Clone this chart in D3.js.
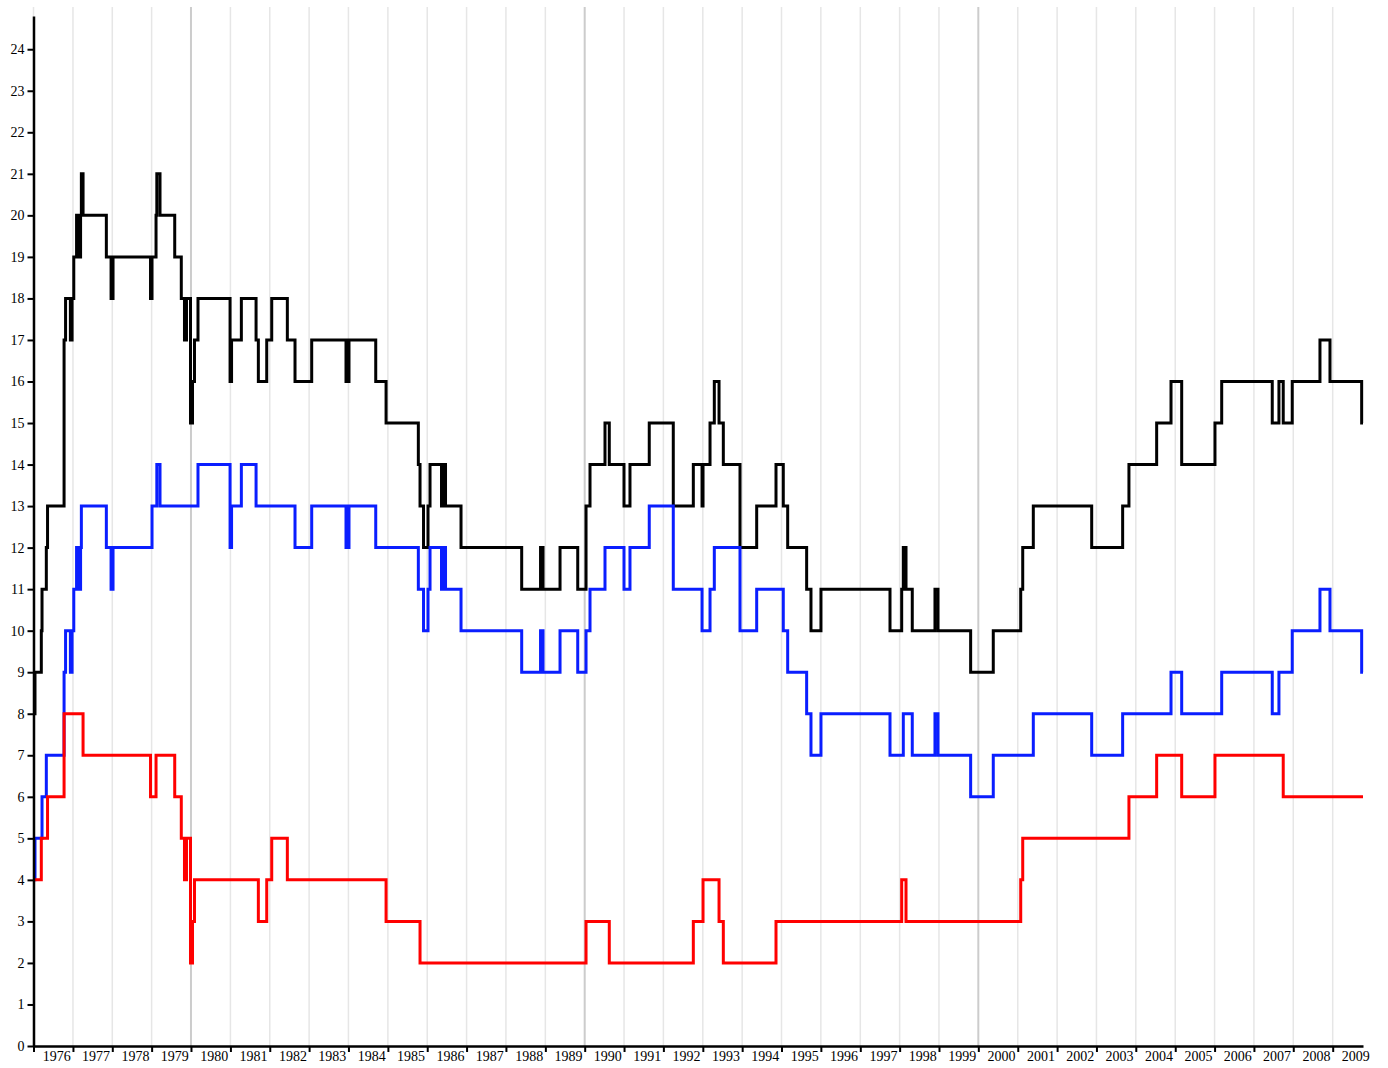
<!DOCTYPE html>
<html>
<head>
<meta charset="utf-8">
<script src="https://cdn.jsdelivr.net/npm/d3@7"></script>
<style>
  body { margin: 0; background: #fff; }
  svg { display: block; }
  text { font-family: "Liberation Serif", "Times New Roman", serif; }
</style>
</head>
<body>
<svg id="chart"></svg>
<script>
// change points, as decimal years; each series holds its value from that point on
var changeYears = [
  1976.000, 1976.038, 1976.198, 1976.216, 1976.325, 1976.356, 1976.775, 1976.813,
  1976.935, 1976.978, 1977.021, 1977.092, 1977.118, 1977.143, 1977.168, 1977.194,
  1977.214, 1977.257, 1977.849, 1977.969, 1978.019, 1978.972, 1979.010, 1979.112,
  1979.132, 1979.213, 1979.587, 1979.754, 1979.835, 1979.886, 1979.988, 1980.039,
  1980.089, 1980.178, 1980.991, 1981.029, 1981.278, 1981.652, 1981.710, 1981.923,
  1982.050, 1982.447, 1982.642, 1983.066, 1983.938, 1984.014, 1984.692, 1984.954,
  1985.774, 1985.817, 1985.906, 1986.020, 1986.071, 1986.363, 1986.401, 1986.465,
  1986.859, 1988.400, 1988.878, 1988.941, 1989.373, 1989.823, 1990.034, 1990.135,
  1990.516, 1990.625, 1990.999, 1991.151, 1991.641, 1992.251, 1992.759, 1992.980,
  1993.005, 1993.183, 1993.292, 1993.412, 1993.521, 1993.945, 1994.369, 1994.860,
  1995.045, 1995.157, 1995.639, 1995.749, 1996.003, 1997.755, 1998.052, 1998.093,
  1998.162, 1998.321, 1998.898, 1998.975, 1999.805, 2000.379, 2001.075, 2001.126,
  2001.395, 2002.879, 2003.666, 2003.826, 2004.529, 2004.893, 2005.164, 2006.010,
  2006.181, 2007.466, 2007.636, 2007.745, 2007.974, 2008.677, 2008.931, 2009.736,
  2009.770
];

var totalSeats = [
   8,  9, 10, 11, 12, 13, 17, 18, 17, 18, 19, 20, 19, 20, 19, 20,
  21, 20, 19, 18, 19, 18, 19, 20, 21, 20, 19, 18, 17, 18, 15, 16,
  17, 18, 16, 17, 18, 17, 16, 17, 18, 17, 16, 17, 16, 17, 16, 15,
  14, 13, 12, 13, 14, 13, 14, 13, 12, 11, 12, 11, 12, 11, 13, 14,
  15, 14, 13, 14, 15, 13, 14, 13, 14, 15, 16, 15, 14, 12, 13, 14,
  13, 12, 11, 10, 11, 10, 11, 12, 11, 10, 11, 10,  9, 10, 11, 12,
  13, 12, 13, 14, 15, 16, 14, 15, 16, 15, 16, 15, 16, 17, 16, 15,
  15
];

var blueSeats = [
   4,  5,  5,  6,  7,  7,  9, 10,  9, 10, 11, 12, 11, 12, 11, 12,
  13, 13, 12, 11, 12, 12, 13, 13, 14, 13, 13, 13, 13, 13, 13, 13,
  13, 14, 12, 13, 14, 13, 13, 13, 13, 13, 12, 13, 12, 13, 12, 12,
  11, 11, 10, 11, 12, 11, 12, 11, 10,  9, 10,  9, 10,  9, 10, 11,
  12, 12, 11, 12, 13, 11, 11, 10, 10, 11, 12, 12, 12, 10, 11, 11,
  10,  9,  8,  7,  8,  7,  7,  8,  8,  7,  8,  7,  6,  7,  7,  7,
   8,  7,  8,  8,  8,  9,  8,  8,  9,  8,  9,  9, 10, 11, 10,  9,
   9
];

var redSeats = [
   4,  4,  5,  5,  5,  6,  8,  8,  8,  8,  8,  8,  8,  8,  8,  8,
   8,  7,  7,  7,  7,  6,  6,  7,  7,  7,  6,  5,  4,  5,  2,  3,
   4,  4,  4,  4,  4,  4,  3,  4,  5,  4,  4,  4,  4,  4,  4,  3,
   3,  2,  2,  2,  2,  2,  2,  2,  2,  2,  2,  2,  2,  2,  3,  3,
   3,  2,  2,  2,  2,  2,  3,  3,  4,  4,  4,  3,  2,  2,  2,  3,
   3,  3,  3,  3,  3,  3,  4,  4,  3,  3,  3,  3,  3,  3,  4,  5,
   5,  5,  5,  6,  7,  7,  6,  7,  7,  7,  7,  6,  6,  6,  6,  6,
   6
];

var yTicks = [0, 1, 2, 3, 4, 5, 6, 7, 8, 9, 10, 11, 12, 13, 14, 15, 16, 17, 18, 19, 20, 21, 22, 23, 24];

var width = 1388, height = 1068;
var margin = { top: 16, right: 25, bottom: 22, left: 33.5 };

function yearToDate(y) {
  var yr = Math.floor(y);
  var start = new Date(yr, 0, 1), end = new Date(yr + 1, 0, 1);
  return new Date(+start + (y - yr) * (end - start));
}

var dates = changeYears.map(yearToDate);

var svg = d3.select('#chart').attr('width', width).attr('height', height);

var x = d3.scaleTime()
  .domain([dates[0], dates[dates.length - 1]])
  .range([margin.left, width - margin.right]);

var y = d3.scaleLinear()
  .domain([0, 24.8])
  .range([height - margin.bottom, margin.top]);

var yearStarts = d3.timeYear.range(dates[0], dates[dates.length - 1]);

// vertical year grid, decades a bit darker
svg.append('g')
  .selectAll('line')
  .data(yearStarts)
  .enter().append('line')
    .attr('x1', function (d) { return x(d) })
    .attr('x2', function (d) { return x(d) })
    .attr('y1', 7)
    .attr('y2', y(0))
    .attr('stroke', function (d) { return d.getFullYear() % 10 === 0 ? '#cccccc' : '#e6e6e6' })
    .attr('stroke-width', function (d) { return d.getFullYear() % 10 === 0 ? 2 : 1.5 })

var series = [
  { values: totalSeats, color: '#000000' },
  { values: blueSeats, color: '#0a1eff' },
  { values: redSeats, color: '#ff0000' }
];

var line = d3.line()
  .curve(d3.curveStepAfter)
  .x(function (d) { return x(d[0]) })
  .y(function (d) { return y(d[1]) });

svg.append('g')
  .selectAll('path')
  .data(series)
  .enter().append('path')
    .attr('fill', 'none')
    .attr('stroke', function (s) { return s.color })
    .attr('stroke-width', 3)
    .attr('d', function (s) { return line(dates.map(function (d, i) { return [d, s.values[i]] })) });

// axes
var xAxis = svg.append('g')
  .attr('transform', 'translate(0,' + y(0) + ')')
  .call(d3.axisBottom(x).tickValues(yearStarts).tickSize(6).tickSizeOuter(0).tickFormat(''));

xAxis.selectAll('.tick')
  .append('text')
    .attr('fill', '#000')
    .attr('x', function (d) {
      var next = d3.timeYear.offset(d, 1);
      return (x(next) - x(d)) / 2 + 3;
    })
    .attr('y', 15)
    .attr('text-anchor', 'middle')
    .attr('font-size', 14)
    .text(function (d) { return d.getFullYear() });

var yAxis = svg.append('g')
  .attr('transform', 'translate(' + margin.left + ',0)')
  .call(d3.axisLeft(y).tickValues(yTicks).tickSize(6).tickSizeOuter(0));

yAxis.selectAll('text').attr('font-size', 14).attr('font-family', '"Liberation Serif", serif');

svg.selectAll('.domain').attr('stroke', '#000').attr('stroke-width', 2.5);
svg.selectAll('.tick line').attr('stroke', '#000').attr('stroke-width', 2);
</script>
</body>
</html>
